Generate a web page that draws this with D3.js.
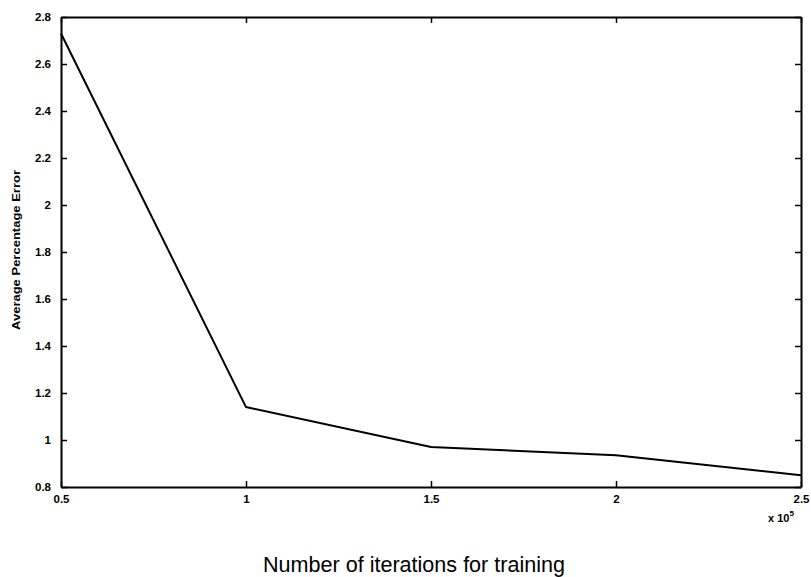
<!DOCTYPE html>
<html><head><meta charset="utf-8">
<script src="https://cdn.jsdelivr.net/npm/d3@7"></script>
<style>body{margin:0;background:#fff}svg{display:block}</style>
</head><body>
<svg id="c" width="811" height="577"></svg>
<script>
const iterations = [0.5, 1, 1.5, 2, 2.5];          // x 10^5
const avgPercentError = [2.73, 1.14, 0.97, 0.935, 0.85];
const xTicks = [0.5, 1, 1.5, 2, 2.5];
const yTicks = [0.8, 1, 1.2, 1.4, 1.6, 1.8, 2, 2.2, 2.4, 2.6, 2.8];
const xLabel = "Number of iterations for training";
const yLabel = "Average Percentage Error";

const svg = d3.select("#c");
const m = {left: 61, top: 17, right: 801, bottom: 487};
const x = d3.scaleLinear().domain([0.5, 2.5]).range([m.left, m.right]);
const y = d3.scaleLinear().domain([0.8, 2.8]).range([m.bottom, m.top]);
const font = "Liberation Sans, Arial, sans-serif";
const fmt = d => d3.format("")(+d.toFixed(1));

const gb = svg.append("g").attr("transform", `translate(0,${m.bottom})`)
  .call(d3.axisBottom(x).tickValues(xTicks).tickSizeInner(-6).tickSizeOuter(0).tickPadding(12).tickFormat(fmt));
const gt = svg.append("g").attr("transform", `translate(0,${m.top})`)
  .call(d3.axisTop(x).tickValues(xTicks).tickSizeInner(-6).tickSizeOuter(0).tickFormat(""));
const gl = svg.append("g").attr("transform", `translate(${m.left},0)`)
  .call(d3.axisLeft(y).tickValues(yTicks).tickSizeInner(-6).tickSizeOuter(0).tickPadding(10).tickFormat(fmt));
const gr = svg.append("g").attr("transform", `translate(${m.right},0)`)
  .call(d3.axisRight(y).tickValues(yTicks).tickSizeInner(-6).tickSizeOuter(0).tickFormat(""));

[gb, gt, gl, gr].forEach(g => {
  g.select(".domain").attr("stroke", "#000").attr("stroke-width", 2);
  g.selectAll(".tick line").attr("stroke", "#000").attr("stroke-width", 1.5);
  g.selectAll("text").attr("font-family", font).attr("font-weight", "bold")
    .attr("font-size", 11.5).attr("fill", "#000");
});
gb.selectAll(".tick text").attr("dy", "0.35em");

const line = d3.line().x((d, i) => x(iterations[i])).y(d => y(d));
svg.append("path").datum(avgPercentError)
  .attr("d", line).attr("fill", "none").attr("stroke", "#000").attr("stroke-width", 2)
  .attr("stroke-linejoin", "round");

const ex = svg.append("text").attr("x", 768).attr("y", 522)
  .attr("font-family", font).attr("font-weight", "bold").attr("font-size", 11).attr("fill", "#000");
ex.append("tspan").text("x 10");
ex.append("tspan").attr("dy", -6).attr("font-size", 8).text("5");

svg.append("text").attr("x", 414).attr("y", 572).attr("text-anchor", "middle")
  .attr("font-family", font).attr("font-size", 22).attr("fill", "#000")
  .attr("textLength", 302).attr("lengthAdjust", "spacingAndGlyphs").text(xLabel);
svg.append("text").attr("transform", "translate(20,250) rotate(-90)").attr("text-anchor", "middle")
  .attr("font-family", font).attr("font-weight", "bold").attr("font-size", 11).attr("fill", "#000")
  .attr("textLength", 160).attr("lengthAdjust", "spacingAndGlyphs").text(yLabel);
</script>
</body></html>
